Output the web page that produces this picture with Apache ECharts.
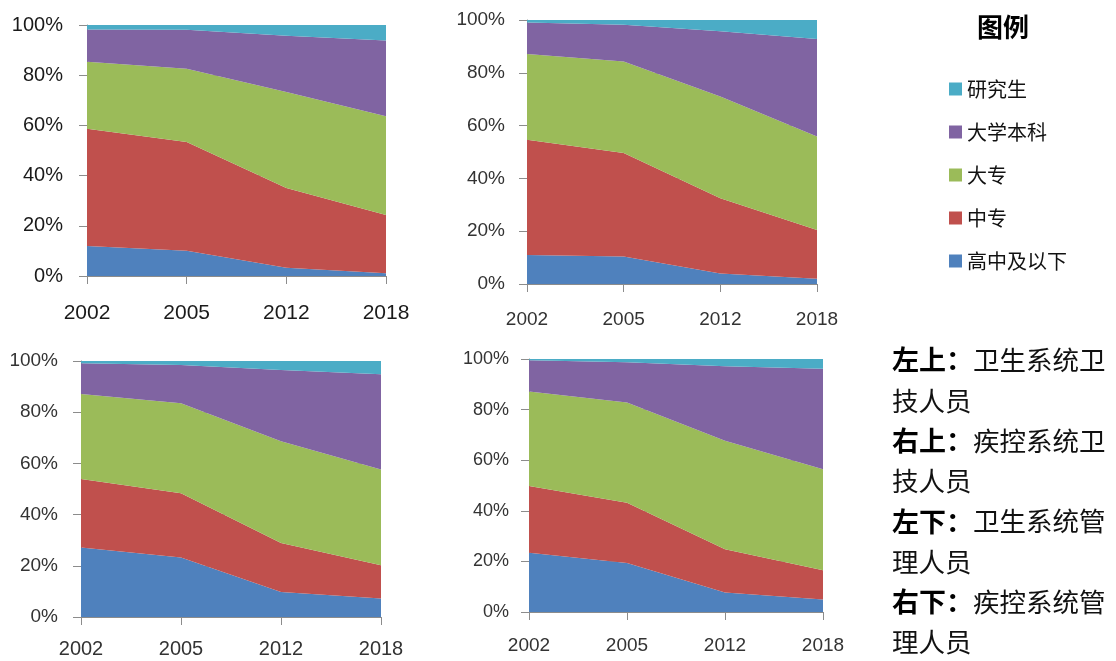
<!DOCTYPE html>
<html>
<head>
<meta charset="utf-8">
<script src="https://cdn.jsdelivr.net/npm/echarts@6/dist/echarts.min.js"></script>
<style>
html,body{margin:0;padding:0;background:#fff;}
#main{width:1116px;height:661px;}
</style>
</head>
<body>
<div id="main"></div>
<script>
// categories
const years = ['2002', '2005', '2012', '2018'];
const seriesNames = ['高中及以下', '中专', '大专', '大学本科', '研究生'];
const legendOrder = ['研究生', '大学本科', '大专', '中专', '高中及以下'];
const yTicks = [0, 20, 40, 60, 80, 100];

// 左上：卫生系统卫技人员 (shares, %)
const tlGaozhong = [12.0, 10.1, 3.3, 1.1];
const tlZhongzhuan = [46.7, 43.3, 31.8, 23.2];
const tlDazhuan = [26.7, 29.2, 38.2, 39.3];
const tlBenke = [12.8, 15.5, 22.4, 30.2];
const tlYanjiusheng = [1.8, 1.9, 4.3, 6.2];

// 右上：疾控系统卫技人员
const trGaozhong = [11.0, 10.4, 4.0, 2.0];
const trZhongzhuan = [43.6, 39.2, 28.5, 18.5];
const trDazhuan = [32.5, 34.7, 38.5, 35.4];
const trBenke = [12.0, 13.9, 24.7, 36.9];
const trYanjiusheng = [0.9, 1.8, 4.3, 7.2];

// 左下：卫生系统管理人员
const blGaozhong = [27.1, 23.2, 9.8, 7.2];
const blZhongzhuan = [26.8, 25.1, 19.1, 13.0];
const blDazhuan = [33.2, 35.2, 39.8, 37.4];
const blBenke = [12.0, 14.9, 27.8, 37.2];
const blYanjiusheng = [0.9, 1.6, 3.5, 5.2];

// 右下：疾控系统管理人员
const brGaozhong = [23.4, 19.4, 7.7, 4.9];
const brZhongzhuan = [26.4, 23.8, 17.1, 11.6];
const brDazhuan = [37.4, 39.6, 42.9, 39.9];
const brBenke = [12.3, 15.9, 29.4, 39.7];
const brYanjiusheng = [0.5, 1.3, 2.9, 3.9];

const panels = [
  [tlGaozhong, tlZhongzhuan, tlDazhuan, tlBenke, tlYanjiusheng],
  [trGaozhong, trZhongzhuan, trDazhuan, trBenke, trYanjiusheng],
  [blGaozhong, blZhongzhuan, blDazhuan, blBenke, blYanjiusheng],
  [brGaozhong, brZhongzhuan, brDazhuan, brBenke, brYanjiusheng]
];

const colors = ['#4F81BD', '#C0504D', '#9BBB59', '#8064A2', '#4BACC6'];

const grids = [
  {left: 87, top: 25, width: 299, height: 251},
  {left: 527, top: 20, width: 290, height: 264},
  {left: 81, top: 361, width: 300, height: 256},
  {left: 529, top: 359, width: 294, height: 253}
];
const xFont = [21, 19, 20, 19];
const yFont = [20, 19, 19, 18];
const yMargin = [24, 22, 23, 20];
const xMargin = [27, 26, 22, 24];
const labelColor = ['#1a1a1a', '#333', '#333', '#333'];

const axisGray = '#8c8c8c';
const fontFam = '"Liberation Sans", Arial, sans-serif';

const xAxes = [], yAxes = [], series = [];
panels.forEach((p, i) => {
  xAxes.push({
    type: 'category', gridIndex: i, data: years, boundaryGap: false,
    axisLine: {lineStyle: {color: axisGray, width: 1}},
    axisTick: {show: true, length: 8, lineStyle: {color: axisGray}},
    axisLabel: {fontSize: xFont[i], color: labelColor[i], fontFamily: fontFam, margin: xMargin[i]}
  });
  yAxes.push({
    type: 'value', gridIndex: i, min: yTicks[0], max: yTicks[yTicks.length - 1], interval: 20,
    axisLine: {show: true, lineStyle: {color: axisGray, width: 1}},
    axisTick: {show: true, length: 8, lineStyle: {color: axisGray}},
    splitLine: {show: true, lineStyle: {color: '#a6a6a6', width: 1}},
    axisLabel: {fontSize: yFont[i], color: labelColor[i], fontFamily: fontFam, margin: yMargin[i], formatter: '{value}%'}
  });
  p.forEach((vals, k) => {
    series.push({
      name: seriesNames[k], type: 'line', stack: 'panel' + i,
      xAxisIndex: i, yAxisIndex: i, data: vals,
      symbol: 'none', smooth: false,
      lineStyle: {width: 0, color: colors[k]},
      itemStyle: {color: colors[k]},
      areaStyle: {color: colors[k], opacity: 1},
      emphasis: {disabled: true},
      animation: false
    });
  });
});

const cjk = '"Noto Sans CJK SC", sans-serif';
const chart = echarts.init(document.getElementById('main'), null, {renderer: 'canvas'});
chart.setOption({
  animation: false,
  backgroundColor: '#ffffff',
  title: [
    {
      text: '图例', left: 972, top: 9,
      textStyle: {fontSize: 26, fontWeight: 'bold', color: '#000', fontFamily: cjk}
    },
    {
      text: '{b|左上：}{n|卫生系统卫}\n{n|技人员}\n{b|右上：}{n|疾控系统卫}\n{n|技人员}\n{b|左下：}{n|卫生系统管}\n{n|理人员}\n{b|右下：}{n|疾控系统管}\n{n|理人员}',
      left: 892, top: 340, padding: 0,
      textStyle: {
        fontSize: 26, lineHeight: 40.3, color: '#000',
        rich: {
          b: {fontSize: 27, fontWeight: 'bold', lineHeight: 40.3, color: '#000', fontFamily: cjk},
          n: {fontSize: 26.5, fontWeight: 'normal', lineHeight: 40.3, color: '#111', fontFamily: cjk}
        }
      }
    }
  ],
  legend: {
    data: legendOrder, orient: 'vertical', left: 944, top: 74,
    icon: 'rect', itemWidth: 13, itemHeight: 13, itemGap: 23,
    selectedMode: false,
    textStyle: {fontSize: 20, lineHeight: 20, color: '#111', fontFamily: cjk, padding: [0, 0, 0, 0]}
  },
  grid: grids,
  xAxis: xAxes,
  yAxis: yAxes,
  series: series
});
</script>
</body>
</html>
